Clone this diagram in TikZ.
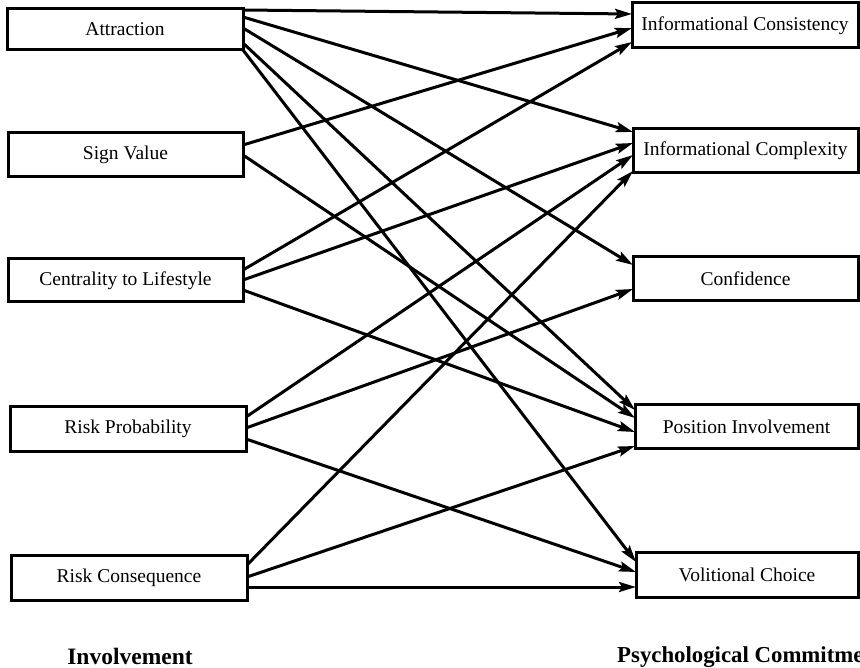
\documentclass[tikz,border=0pt]{standalone}
\usepackage{fontspec}
\setmainfont{Liberation Serif}
\usetikzlibrary{arrows.meta}
\begin{document}
\begin{tikzpicture}[x=1pt,y=-1pt,
  box/.style={draw, line width=3pt, inner sep=0pt, outer sep=0pt,
    font=\fontsize{19.5}{22}\selectfont},
  arr/.style={line width=3pt, -{Stealth[length=17pt,width=10pt,inset=3pt]}},
  grp/.style={font=\fontsize{23.5}{26}\selectfont\bfseries, inner sep=0pt}]
\useasboundingbox (0,0) rectangle (860,668);
% left boxes
\node[box, minimum width=236pt, minimum height=41pt] (att) at (125,29.5) {Attraction};
\node[box, minimum width=235pt, minimum height=44pt] (sgn) at (125.5,155) {Sign Value};
\node[box, minimum width=235pt, minimum height=43pt] (cen) at (125.5,280.5) {Centrality to Lifestyle};
\node[box, minimum width=236pt, minimum height=44pt] (rp) at (128,429) {Risk Probability};
\node[box, minimum width=236pt, minimum height=45pt] (rc) at (129,577.5) {Risk Consequence};
% right boxes
\node[box, minimum width=226pt, minimum height=45pt] (ic) at (745,25.5) {Informational Consistency};
\node[box, minimum width=225pt, minimum height=44pt] (icx) at (745.5,151) {Informational Complexity};
\node[box, minimum width=225pt, minimum height=44pt] (conf) at (745.5,279) {Confidence};
\node[box, minimum width=223pt, minimum height=43pt] (pi) at (746.5,426.5) {Position Involvement};
\node[box, minimum width=222pt, minimum height=45pt] (vc) at (747,574.5) {Volitional Choice};
% group labels
\node[grp, anchor=base] (lg) at (130,664) {Involvement};
\node[grp, anchor=base west, font=\fontsize{22.8}{26}\selectfont\bfseries] (rg) at (617,662) {Psychological Commitment};
% connectors
\draw[arr] ([yshift=-1pt]att.north east) -- ([yshift=-11pt]ic.north west);
\draw[arr] ([yshift=-8pt]att.north east) -- ([yshift=-3pt]icx.north west);
\draw[arr] ([yshift=-19pt]att.north east) -- ([yshift=-8pt]conf.north west);
\draw[arr] ([yshift=-34pt]att.north east) -- ([yshift=-5pt]pi.north west);
\draw[arr] (att.south east) -- ([yshift=-10pt]vc.north west);
\draw[arr] ([yshift=-12pt]sgn.north east) -- ([yshift=-25pt]ic.north west);
\draw[arr] ([yshift=-22pt]sgn.north east) -- ([yshift=-13pt]pi.north west);
\draw[arr] ([yshift=-11pt]cen.north east) -- ([yshift=-39pt]ic.north west);
\draw[arr] ([yshift=-21pt]cen.north east) -- ([yshift=-14pt]icx.north west);
\draw[arr] ([yshift=-31pt]cen.north east) -- ([yshift=-27pt]pi.north west);
\draw[arr] ([yshift=-10pt]rp.north east) -- ([yshift=-26pt]icx.north west);
\draw[arr] ([yshift=-21pt]rp.north east) -- ([yshift=-32pt]conf.north west);
\draw[arr] ([yshift=-32pt]rp.north east) -- ([yshift=-20pt]vc.north west);
\draw[arr] ([yshift=-10pt]rc.north east) -- ([yshift=-42pt]icx.north west);
\draw[arr] ([yshift=-22pt]rc.north east) -- ([yshift=-41pt]pi.north west);
\draw[arr] ([yshift=-32pt]rc.north east) -- ([yshift=-35pt]vc.north west);
\end{tikzpicture}
\end{document}
